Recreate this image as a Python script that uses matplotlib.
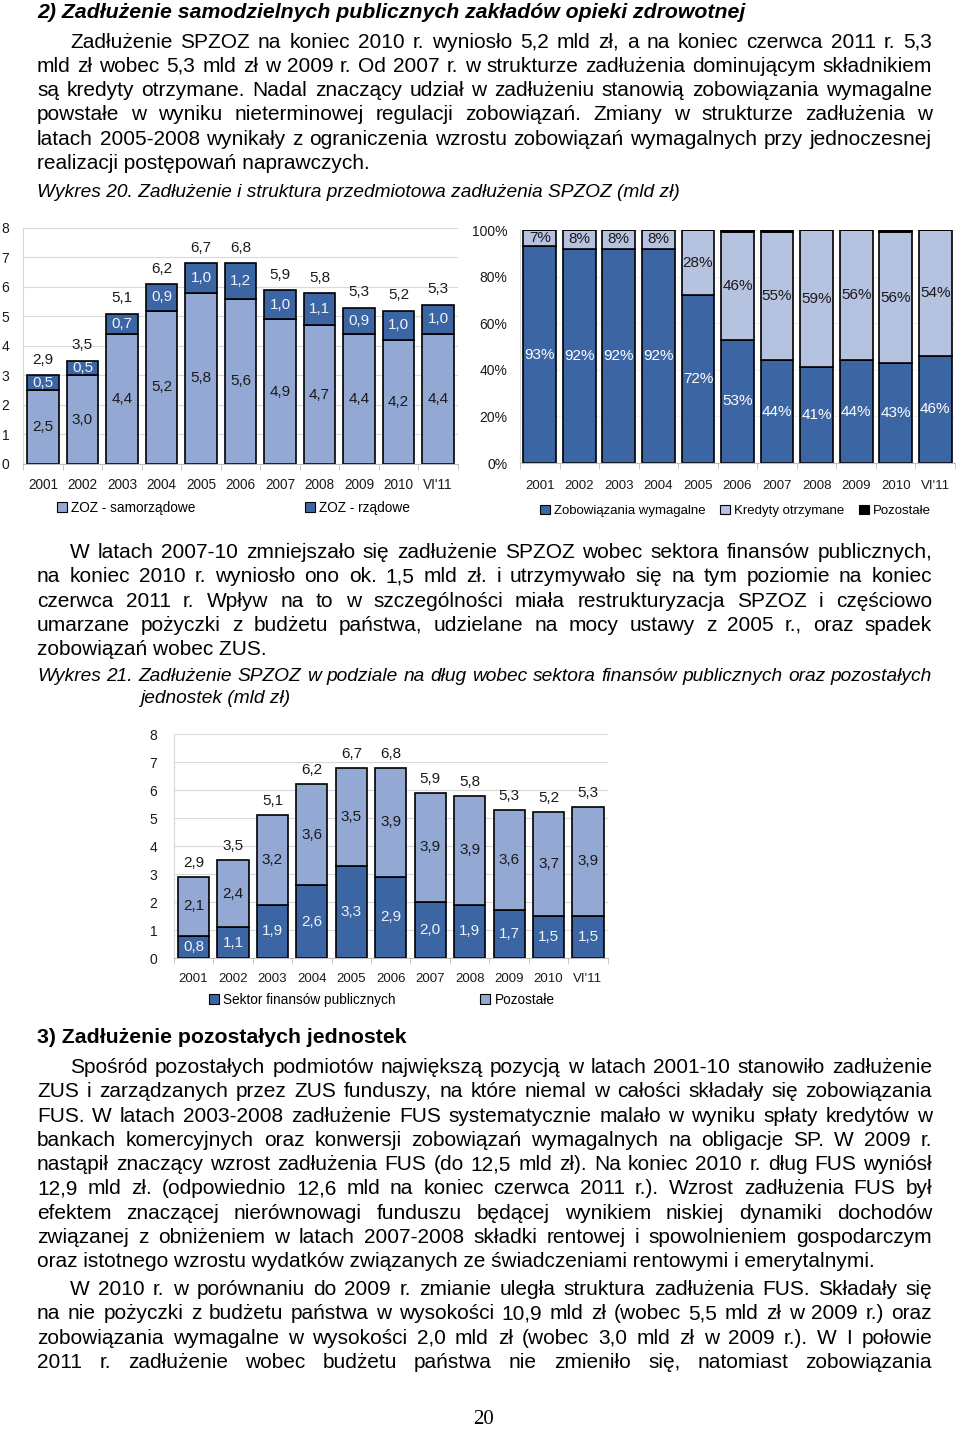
import numpy as np
import matplotlib.pyplot as plt
from matplotlib.patches import Patch

W, H = 960, 1430

plt.rcParams['font.family'] = ['Liberation Sans', 'DejaVu Sans']

years = ["2001", "2002", "2003", "2004", "2005", "2006", "2007", "2008", "2009", "2010", "VI'11"]

# Wykres 20 (lewy) - mld zł
zoz_samorzadowe = [2.5, 3.0, 4.4, 5.2, 5.8, 5.6, 4.9, 4.7, 4.4, 4.2, 4.4]
zoz_rzadowe = [0.5, 0.5, 0.7, 0.9, 1.0, 1.2, 1.0, 1.1, 0.9, 1.0, 1.0]
zoz_razem = [2.9, 3.5, 5.1, 6.2, 6.7, 6.8, 5.9, 5.8, 5.3, 5.2, 5.3]

# Wykres 20 (prawy) - struktura w %
zob_wymagalne = [93, 92, 92, 92, 72, 53, 44, 41, 44, 43, 46]
kredyty = [7, 8, 8, 8, 28, 46, 55, 59, 56, 56, 54]
pozostale_pct = [0, 0, 0, 0, 0, 1, 1, 0, 0, 1, 0]

# Wykres 21 - mld zł
sektor_fp = [0.8, 1.1, 1.9, 2.6, 3.3, 2.9, 2.0, 1.9, 1.7, 1.5, 1.5]
pozostale = [2.1, 2.4, 3.2, 3.6, 3.5, 3.9, 3.9, 3.9, 3.6, 3.7, 3.9]
razem_21 = [2.9, 3.5, 5.1, 6.2, 6.7, 6.8, 5.9, 5.8, 5.3, 5.2, 5.3]

LIGHT = "#94A8D4"
LIGHT2 = "#B5C2E0"
DARK = "#3C66A3"
TXT = "#1A1A1A"

heading_2 = "2) Zadłużenie samodzielnych publicznych zakładów opieki zdrowotnej"
para_1 = [
    "Zadłużenie SPZOZ na koniec 2010 r. wyniosło 5,2 mld zł, a  na koniec czerwca 2011 r. 5,3",
    "mld zł wobec 5,3 mld zł w 2009 r. Od 2007 r. w strukturze zadłużenia dominującym składnikiem",
    "są kredyty otrzymane. Nadal znaczący udział w zadłużeniu stanowią zobowiązania wymagalne",
    "powstałe w wyniku nieterminowej regulacji zobowiązań. Zmiany w strukturze zadłużenia w",
    "latach 2005-2008 wynikały z ograniczenia wzrostu zobowiązań wymagalnych przy jednoczesnej",
    "realizacji postępowań naprawczych.",
]
caption_20 = "Wykres 20. Zadłużenie i struktura przedmiotowa zadłużenia SPZOZ (mld zł)"
para_2 = [
    "W latach 2007-10 zmniejszało się zadłużenie SPZOZ wobec sektora finansów publicznych,",
    "na koniec 2010 r. wyniosło ono ok. 1,5 mld zł. i utrzymywało się na tym poziomie na koniec",
    "czerwca 2011 r. Wpływ na to w szczególności miała restrukturyzacja SPZOZ i częściowo",
    "umarzane pożyczki z budżetu państwa, udzielane na mocy ustawy z 2005 r., oraz spadek",
    "zobowiązań wobec ZUS.",
]
caption_21 = ["Wykres 21. Zadłużenie SPZOZ w podziale na dług wobec sektora finansów publicznych oraz pozostałych",
              "jednostek (mld zł)"]
heading_3 = "3) Zadłużenie pozostałych jednostek"
para_3 = [
    "Spośród pozostałych podmiotów największą pozycją w latach 2001-10 stanowiło zadłużenie",
    "ZUS i zarządzanych przez ZUS funduszy, na które niemal w całości składały się zobowiązania",
    "FUS. W latach 2003-2008 zadłużenie FUS systematycznie malało w wyniku spłaty kredytów w",
    "bankach komercyjnych oraz konwersji zobowiązań wymagalnych na obligacje SP. W 2009 r.",
    "nastąpił znaczący wzrost zadłużenia FUS (do 12,5 mld zł). Na koniec 2010 r. dług FUS wyniósł",
    "12,9 mld zł. (odpowiednio 12,6 mld na koniec czerwca 2011 r.). Wzrost zadłużenia FUS był",
    "efektem znaczącej nierównowagi funduszu będącej wynikiem niskiej dynamiki dochodów",
    "związanej z obniżeniem w latach 2007-2008 składki rentowej i spowolnieniem gospodarczym",
    "oraz istotnego wzrostu wydatków związanych ze świadczeniami rentowymi i emerytalnymi.",
]
para_4 = [
    "W 2010 r. w porównaniu do 2009 r. zmianie uległa struktura zadłużenia FUS. Składały się",
    "na nie pożyczki z budżetu państwa w wysokości 10,9 mld zł (wobec 5,5 mld zł w 2009 r.) oraz",
    "zobowiązania wymagalne w wysokości 2,0 mld zł (wobec 3,0 mld zł w 2009 r.). W I połowie",
    "2011 r. zadłużenie wobec budżetu państwa nie zmieniło się, natomiast zobowiązania",
]

fig = plt.figure(figsize=(W / 100, H / 100), dpi=100)
fig.patch.set_facecolor("white")
renderer = fig.canvas.get_renderer()


def text_width(s, **kw):
    t = fig.text(0, 0, s, **kw)
    w = t.get_window_extent(renderer).width
    t.remove()
    return w


def fit_size(s, target, **kw):
    return 14 * target / text_width(s, fontsize=14, **kw)


body = fit_size(para_3[-1], 843)
cap = fit_size(caption_20, 643, style="italic")
head = fit_size(heading_2, 711, style="italic", weight="bold")


def put_line(s, x0, x1, y, justify, **kw):
    if not justify:
        fig.text(x0 / W, 1 - y / H, s, va="baseline", color="black", **kw)
        return
    words = s.split()
    objs = [fig.text(0, 1 - y / H, w, va="baseline", color="black", **kw) for w in words]
    widths = [o.get_window_extent(renderer).width for o in objs]
    gap = (x1 - x0 - sum(widths)) / (len(words) - 1)
    x = x0
    for o, w in zip(objs, widths):
        o.set_x(x / W)
        x += w + gap


def paragraph(lines, y0, last_justified=False, step=24.3):
    for k, line in enumerate(lines):
        x0 = 70 if k == 0 else 37
        just = k < len(lines) - 1 or last_justified
        put_line(line, x0, 932, y0 + k * step, just, fontsize=body)


# text blocks
put_line(heading_2, 37, 932, 18.5, False, fontsize=head, style="italic", weight="bold")
paragraph(para_1, 47.6)
put_line(caption_20, 37, 932, 197, False, fontsize=cap, style="italic")
paragraph(para_2, 558)
put_line(caption_21[0], 37, 932, 681, True, fontsize=cap, style="italic")
put_line(caption_21[1], 140, 932, 703, False, fontsize=cap, style="italic")
put_line(heading_3, 37, 932, 1043, False, fontsize=head, weight="bold")
paragraph(para_3, 1073)
paragraph(para_4, 1295, last_justified=True)
fig.text(484 / W, 1 - 1419 / H, "20", ha="center", va="center",
         fontsize=15, family=["Liberation Serif", "DejaVu Serif"])


def px_axes(x0, x1, y_top, y_bottom):
    return fig.add_axes([x0 / W, 1 - y_bottom / H, (x1 - x0) / W, (y_bottom - y_top) / H])


def fmt(v):
    return f"{v:.1f}".replace(".", ",")


def style_axes(ax, ymax, yticks, grid_color="#D9D9D9", xpad=10, ypad=10, size=9.8):
    n = len(years)
    ax.set_xlim(-0.5, n - 0.5)
    ax.set_ylim(0, ymax)
    ax.set_yticks(yticks)
    ax.yaxis.grid(True, color=grid_color, lw=0.8)
    ax.set_axisbelow(True)
    ax.set_facecolor("white")
    for s in ["top", "right"]:
        ax.spines[s].set_visible(False)
    ax.spines["left"].set_color("#D8D8D8")
    ax.spines["bottom"].set_color("#BFBFBF")
    ax.set_xticks(np.arange(n), years)
    ax.set_xticks(np.arange(-0.5, n), minor=True)
    ax.tick_params(axis="x", which="major", length=0, pad=xpad, labelsize=size, labelcolor=TXT)
    ax.tick_params(axis="x", which="minor", length=4, color="#BFBFBF")
    ax.tick_params(axis="y", length=0, pad=ypad, labelsize=10, labelcolor=TXT)


x = np.arange(len(years))

# --- Wykres 20, lewy
ax1 = px_axes(23.25, 457.75, 228, 464)
style_axes(ax1, 8, range(9))
b1 = ax1.bar(x, zoz_samorzadowe, 0.81, color=LIGHT, edgecolor="black", lw=1.2)
b2 = ax1.bar(x, zoz_rzadowe, 0.81, bottom=zoz_samorzadowe, color=DARK, edgecolor="black", lw=1.2)
ax1.bar_label(b1, labels=[fmt(v) for v in zoz_samorzadowe], label_type="center", fontsize=11, color=TXT)
ax1.bar_label(b2, labels=[fmt(v) for v in zoz_rzadowe], label_type="center", fontsize=11, color="#EEF2FA")
ax1.bar_label(b2, labels=[fmt(v) for v in zoz_razem], padding=6, fontsize=11, color=TXT)
ax1.legend(handles=[Patch(facecolor=LIGHT, edgecolor="black", lw=0.8, label="ZOZ - samorządowe"),
                    Patch(facecolor=DARK, edgecolor="black", lw=0.8, label="ZOZ - rządowe")],
           loc="center left", bbox_to_anchor=(57 / W, 1 - 508 / H), bbox_transform=fig.transFigure,
           ncol=2, frameon=False, fontsize=9.8, handlelength=0.75, handleheight=0.75,
           handletextpad=0.3, columnspacing=8.0, borderpad=0, borderaxespad=0)

# --- Wykres 20, prawy (struktura)
ax2 = px_axes(520, 955, 230, 463)
style_axes(ax2, 100, range(0, 101, 20), grid_color="#EFEFEF", xpad=12, ypad=9, size=9.5)
ax2.set_yticks(range(0, 101, 20), [f"{v}%" for v in range(0, 101, 20)])
bottom2 = np.array(zob_wymagalne)
c1 = ax2.bar(x, zob_wymagalne, 0.83, color=DARK, edgecolor="black", lw=1.2)
c2 = ax2.bar(x, kredyty, 0.83, bottom=bottom2, color=LIGHT2, edgecolor="black", lw=1.2)
ax2.bar(x, pozostale_pct, 0.83, bottom=bottom2 + np.array(kredyty), color="black", edgecolor="black", lw=1.2)
ax2.bar_label(c1, labels=[f"{v}%" for v in zob_wymagalne], label_type="center", fontsize=11, color="white")
ax2.bar_label(c2, labels=[f"{v}%" for v in kredyty], label_type="center", fontsize=11, color=TXT)
ax2.legend(handles=[Patch(facecolor=DARK, edgecolor="black", lw=0.8, label="Zobowiązania wymagalne"),
                    Patch(facecolor=LIGHT2, edgecolor="black", lw=0.8, label="Kredyty otrzymane"),
                    Patch(facecolor="black", edgecolor="black", lw=0.8, label="Pozostałe")],
           loc="center left", bbox_to_anchor=(540 / W, 1 - 511 / H), bbox_transform=fig.transFigure,
           ncol=3, frameon=False, fontsize=9.5, handlelength=0.75, handleheight=0.75,
           handletextpad=0.3, columnspacing=1.1, borderpad=0, borderaxespad=0)

# --- Wykres 21
ax3 = px_axes(173.8, 607.7, 734, 958)
style_axes(ax3, 8, range(9), xpad=11, ypad=12, size=9.5)
d1 = ax3.bar(x, sektor_fp, 0.79, color=DARK, edgecolor="black", lw=1.2)
d2 = ax3.bar(x, pozostale, 0.79, bottom=sektor_fp, color=LIGHT, edgecolor="black", lw=1.2)
ax3.bar_label(d1, labels=[fmt(v) for v in sektor_fp], label_type="center", fontsize=11, color="#EEF2FA")
ax3.bar_label(d2, labels=[fmt(v) for v in pozostale], label_type="center", fontsize=11, color=TXT)
ax3.bar_label(d2, labels=[fmt(v) for v in razem_21], padding=5, fontsize=11, color=TXT)
ax3.legend(handles=[Patch(facecolor=DARK, edgecolor="black", lw=0.8, label="Sektor finansów publicznych"),
                    Patch(facecolor=LIGHT, edgecolor="black", lw=0.8, label="Pozostałe")],
           loc="center left", bbox_to_anchor=(209 / W, 1 - 1000 / H), bbox_transform=fig.transFigure,
           ncol=2, frameon=False, fontsize=9.8, handlelength=0.75, handleheight=0.75,
           handletextpad=0.3, columnspacing=6.2, borderpad=0, borderaxespad=0)

fig.savefig("out.png", dpi=100)
